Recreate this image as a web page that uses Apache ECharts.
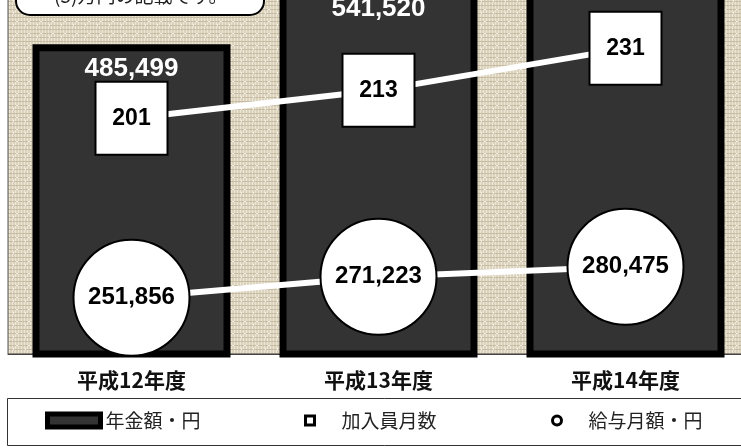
<!DOCTYPE html>
<html>
<head>
<meta charset="utf-8">
<script src="https://cdn.jsdelivr.net/npm/echarts@6/dist/echarts.min.js"></script>
<style>
  html, body { margin: 0; padding: 0; width: 741px; height: 448px; overflow: hidden; background: #fff; }
  /* 元の図は上が切れているので、グラフ全体を上にずらす */
  .echarts { position: absolute; left: 0; top: -80px; width: 760px; height: 528px; }
</style>
</head>
<body>
<div class="echarts" id="myChart"></div>
<script>
const categories = ['平成12年度', '平成13年度', '平成14年度'];
const pensionYen = [485499, 541520, 579000];   // 年金額・円 (3本目は上が切れていて推定)
const memberMonths = [201, 213, 231];           // 加入員月数
const salaryYen = [251856, 271223, 280475];     // 給与月額・円

function comma(v) {
  return String(v).replace(/\B(?=(\d{3})+(?!\d))/g, ',');
}

// 麻布っぽい背景
function makeTexture() {
  let c = document.createElement('canvas');
  c.width = 12;
  c.height = 12;
  let ctx = c.getContext('2d');
  ctx.fillStyle = '#dbd2be';
  ctx.fillRect(0, 0, 12, 12);
  ctx.fillStyle = '#ede7d8';
  for (let i = 0; i < 12; i += 3) ctx.fillRect(i, 0, 1, 12);
  ctx.fillStyle = '#c8bca2';
  for (let j = 1; j < 12; j += 4) ctx.fillRect(0, j, 12, 1);
  ctx.fillStyle = '#f4efe5';
  ctx.fillRect(4, 5, 2, 1);
  ctx.fillRect(9, 10, 1, 1);
  ctx.fillRect(1, 8, 1, 2);
  return c;
}

let legendText = { fontSize: 19, color: '#222', fontFamily: 'Noto Sans CJK JP' };

let myChart = echarts.init(document.getElementById('myChart'));
myChart.setOption({
  animation: false,
  grid: {
    left: 8,
    right: 11,
    top: 0,
    bottom: 94,
    show: true,
    backgroundColor: { image: makeTexture(), repeat: 'repeat' },
    borderColor: '#555',
    borderWidth: 1
  },
  xAxis: {
    type: 'category',
    data: categories,
    axisLine: { lineStyle: { color: '#444', width: 1 } },
    axisTick: { inside: true, length: 5, lineStyle: { color: '#333' } },
    axisLabel: {
      margin: 16,
      color: '#111',
      fontSize: 21,
      fontWeight: 'bold',
      fontFamily: 'Noto Sans CJK JP'
    }
  },
  yAxis: [
    { type: 'value', min: 200000, max: 600000, show: false, splitLine: { show: false } },
    { type: 'value', min: 100, max: 286, show: false, splitLine: { show: false } }
  ],
  legend: [
    {
      left: 40, top: 486, selectedMode: false,
      itemWidth: 53, itemHeight: 13,
      textStyle: legendText,
      data: [{ name: '年金額・円', icon: 'rect', itemStyle: { color: '#333', borderColor: '#000', borderWidth: 5 } }]
    },
    {
      left: 299, top: 486, selectedMode: false,
      itemWidth: 9, itemHeight: 9,
      textStyle: Object.assign({ padding: [0, 0, 0, 22] }, legendText),
      data: [{ name: '加入員月数', icon: 'rect', itemStyle: { color: '#fff', borderColor: '#000', borderWidth: 3 } }]
    },
    {
      left: 546, top: 486, selectedMode: false,
      itemWidth: 9, itemHeight: 9,
      textStyle: Object.assign({ padding: [0, 0, 0, 22] }, legendText),
      data: [{ name: '給与月額・円', icon: 'circle', itemStyle: { color: '#fff', borderColor: '#000', borderWidth: 3 } }]
    }
  ],
  graphic: [
    {
      type: 'rect', left: 7, top: 478, z: 0,
      shape: { width: 760, height: 47 },
      style: { fill: '#fff', stroke: '#333', lineWidth: 1 }
    },
    {
      type: 'rect', left: 15, top: 40, z: 100,
      shape: { width: 248, height: 54, r: 14 },
      style: { fill: '#fff', stroke: '#000', lineWidth: 2 }
    },
    {
      type: 'text', left: 54, top: 66, z: 101,
      style: { text: '(5)万円の記載です。', fill: '#222', font: '19px "Noto Sans CJK JP"' }
    }
  ],
  series: [
    {
      name: '年金額・円',
      type: 'bar',
      yAxisIndex: 0,
      barWidth: 198,
      itemStyle: { color: '#333', borderColor: '#000', borderWidth: 7 },
      label: {
        show: true,
        position: 'insideTop',
        distance: 12,
        color: '#fff',
        fontSize: 26,
        fontWeight: 'bold',
        fontFamily: 'Liberation Sans, Arial',
        formatter: function(params) {
          return comma(params.value);
        }
      },
      data: pensionYen
    },
    {
      name: '加入員月数',
      type: 'line',
      yAxisIndex: 1,
      z: 3,
      symbol: 'rect',
      symbolSize: [72, 73],
      showAllSymbol: true,
      lineStyle: { color: '#fff', width: 6 },
      itemStyle: { color: '#fff', borderColor: '#000', borderWidth: 2 },
      label: {
        show: true,
        position: 'inside',
        color: '#000',
        fontSize: 23,
        fontWeight: 'bold',
        fontFamily: 'Liberation Sans, Arial'
      },
      data: memberMonths
    },
    {
      name: '給与月額・円',
      type: 'line',
      yAxisIndex: 0,
      z: 3,
      symbol: 'circle',
      symbolSize: 116,
      showAllSymbol: true,
      lineStyle: { color: '#fff', width: 6 },
      itemStyle: { color: '#fff', borderColor: '#000', borderWidth: 2 },
      label: {
        show: true,
        position: 'inside',
        color: '#000',
        fontSize: 24,
        fontWeight: 'bold',
        fontFamily: 'Liberation Sans, Arial',
        formatter: function(params) {
          return comma(params.value);
        }
      },
      data: salaryYen
    }
  ]
});
</script>
</body>
</html>
